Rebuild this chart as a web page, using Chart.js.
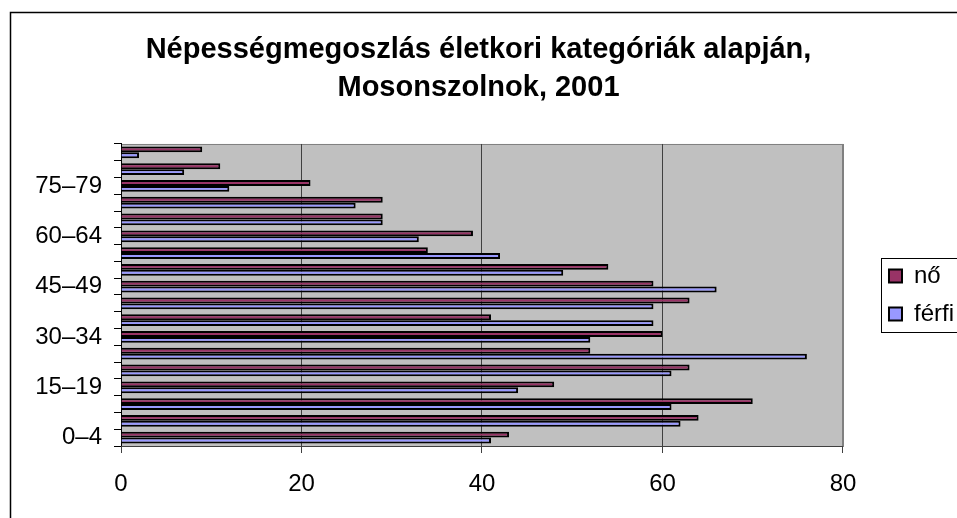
<!DOCTYPE html>
<html>
<head>
<meta charset="utf-8">
<script src="https://cdn.jsdelivr.net/npm/chart.js@4"></script>
<style>
  html, body { margin: 0; padding: 0; overflow: hidden; background: #fff; }
  #wrap { position: absolute; left: -7px; top: 0; width: 971px; height: 518px; }
</style>
</head>
<body>
<div id="wrap"><canvas id="chart" width="971" height="518"></canvas></div>
<script>
const TITLE = ["Népességmegoszlás életkori kategóriák alapján,", "Mosonszolnok, 2001"];

const AGE_GROUPS = [
  "0–4", "5–9", "10–14", "15–19", "20–24", "25–29",
  "30–34", "35–39", "40–44", "45–49", "50–54", "55–59",
  "60–64", "65–69", "70–74", "75–79", "80–84", "85–",
];

const NO = [43, 64, 70, 48, 63, 52, 60, 41, 63, 59, 54, 34, 39, 29, 29, 21, 11, 9];
const FERFI = [41, 62, 61, 44, 61, 76, 52, 59, 59, 66, 49, 42, 33, 29, 26, 12, 7, 2];

const X_TICKS = [0, 20, 40, 60, 80];

const FONT = "'Liberation Sans', Arial, sans-serif";

// white page, outer frame, grey plot area
const frame = {
  id: "frame",
  beforeDraw(chart) {
    const { ctx, chartArea: a } = chart;
    ctx.save();
    ctx.fillStyle = "#fff";
    ctx.fillRect(0, 0, chart.width, chart.height);
    ctx.strokeStyle = "#000";
    ctx.lineWidth = 1.5;
    ctx.strokeRect(17.5, 12.5, chart.width + 20, chart.height + 20);
    ctx.fillStyle = "#c0c0c0";
    ctx.fillRect(a.left, a.top, a.right - a.left, a.bottom - a.top);
    ctx.strokeStyle = "#808080";
    ctx.lineWidth = 1;
    ctx.strokeRect(a.left + 0.5, a.top + 0.5, a.right - a.left, a.bottom - a.top);
    ctx.restore();
  },
  afterDraw(chart) {
    const boxes = chart.legend.legendHitBoxes;
    if (!boxes || !boxes.length) return;
    const first = boxes[0];
    const last = boxes[boxes.length - 1];
    const { ctx } = chart;
    ctx.save();
    ctx.strokeStyle = "#000";
    ctx.lineWidth = 1;
    const x = Math.round(first.left - 8) + 0.5;
    const y = Math.round(first.top - 6) + 0.5;
    const b = Math.round(last.top + last.height + 6) + 0.5;
    ctx.strokeRect(x, y, chart.width, b - y);
    ctx.restore();
  },
};

new Chart(document.getElementById("chart"), {
  type: "bar",
  data: {
    labels: AGE_GROUPS,
    datasets: [
      {
        label: "nő",
        data: NO,
        backgroundColor: "#993366",
        borderColor: "#000",
        borderWidth: 2,
      },
      {
        label: "férfi",
        data: FERFI,
        backgroundColor: "#9999ff",
        borderColor: "#000",
        borderWidth: 2,
      },
    ],
  },
  options: {
    responsive: false,
    animation: false,
    indexAxis: "y",
    layout: { padding: 0 },
    datasets: {
      bar: { barPercentage: 1, categoryPercentage: 0.7 },
    },
    plugins: {
      title: {
        display: true,
        text: TITLE,
        color: "#000",
        font: { family: FONT, size: 29, weight: "bold", lineHeight: 1.31 },
        padding: { top: 31, bottom: 37 },
      },
      legend: {
        position: "right",
        fullSize: false,
        labels: {
          color: "#000",
          font: { family: FONT, size: 24 },
          boxWidth: 13,
          boxHeight: 13,
          padding: 14,
        },
      },
      tooltip: { enabled: false },
    },
    scales: {
      y: {
        reverse: true,
        afterFit: (s) => { s.width = 128; },
        grid: {
          drawOnChartArea: false,
          offset: true,
          tickLength: 7,
          color: "#000",
        },
        border: { color: "#000", width: 1 },
        ticks: {
          autoSkip: false,
          padding: 12,
          color: "#000",
          font: { family: FONT, size: 24 },
          callback: (v, i) => (i % 3 === 0 ? AGE_GROUPS[i] : ""),
        },
      },
      x: {
        min: X_TICKS[0],
        max: X_TICKS[X_TICKS.length - 1],
        afterFit: (s) => { s.height = 72; },
        afterBuildTicks: (s) => { s.ticks = X_TICKS.map((v) => ({ value: v })); },
        grid: {
          color: (c) => (c.tick && c.tick.value === 80 ? "#808080" : "#404040"),
          tickLength: 7,
          tickColor: "#404040",
        },
        border: { color: "#404040", width: 1 },
        ticks: {
          padding: 17,
          color: "#000",
          font: { family: FONT, size: 24 },
        },
      },
      gap: {
        type: "linear",
        position: "right",
        afterFit: (s) => { s.width = 32; },
        grid: { display: false },
        border: { display: false },
        ticks: { display: false },
      },
    },
  },
  plugins: [frame],
});
</script>
</body>
</html>
